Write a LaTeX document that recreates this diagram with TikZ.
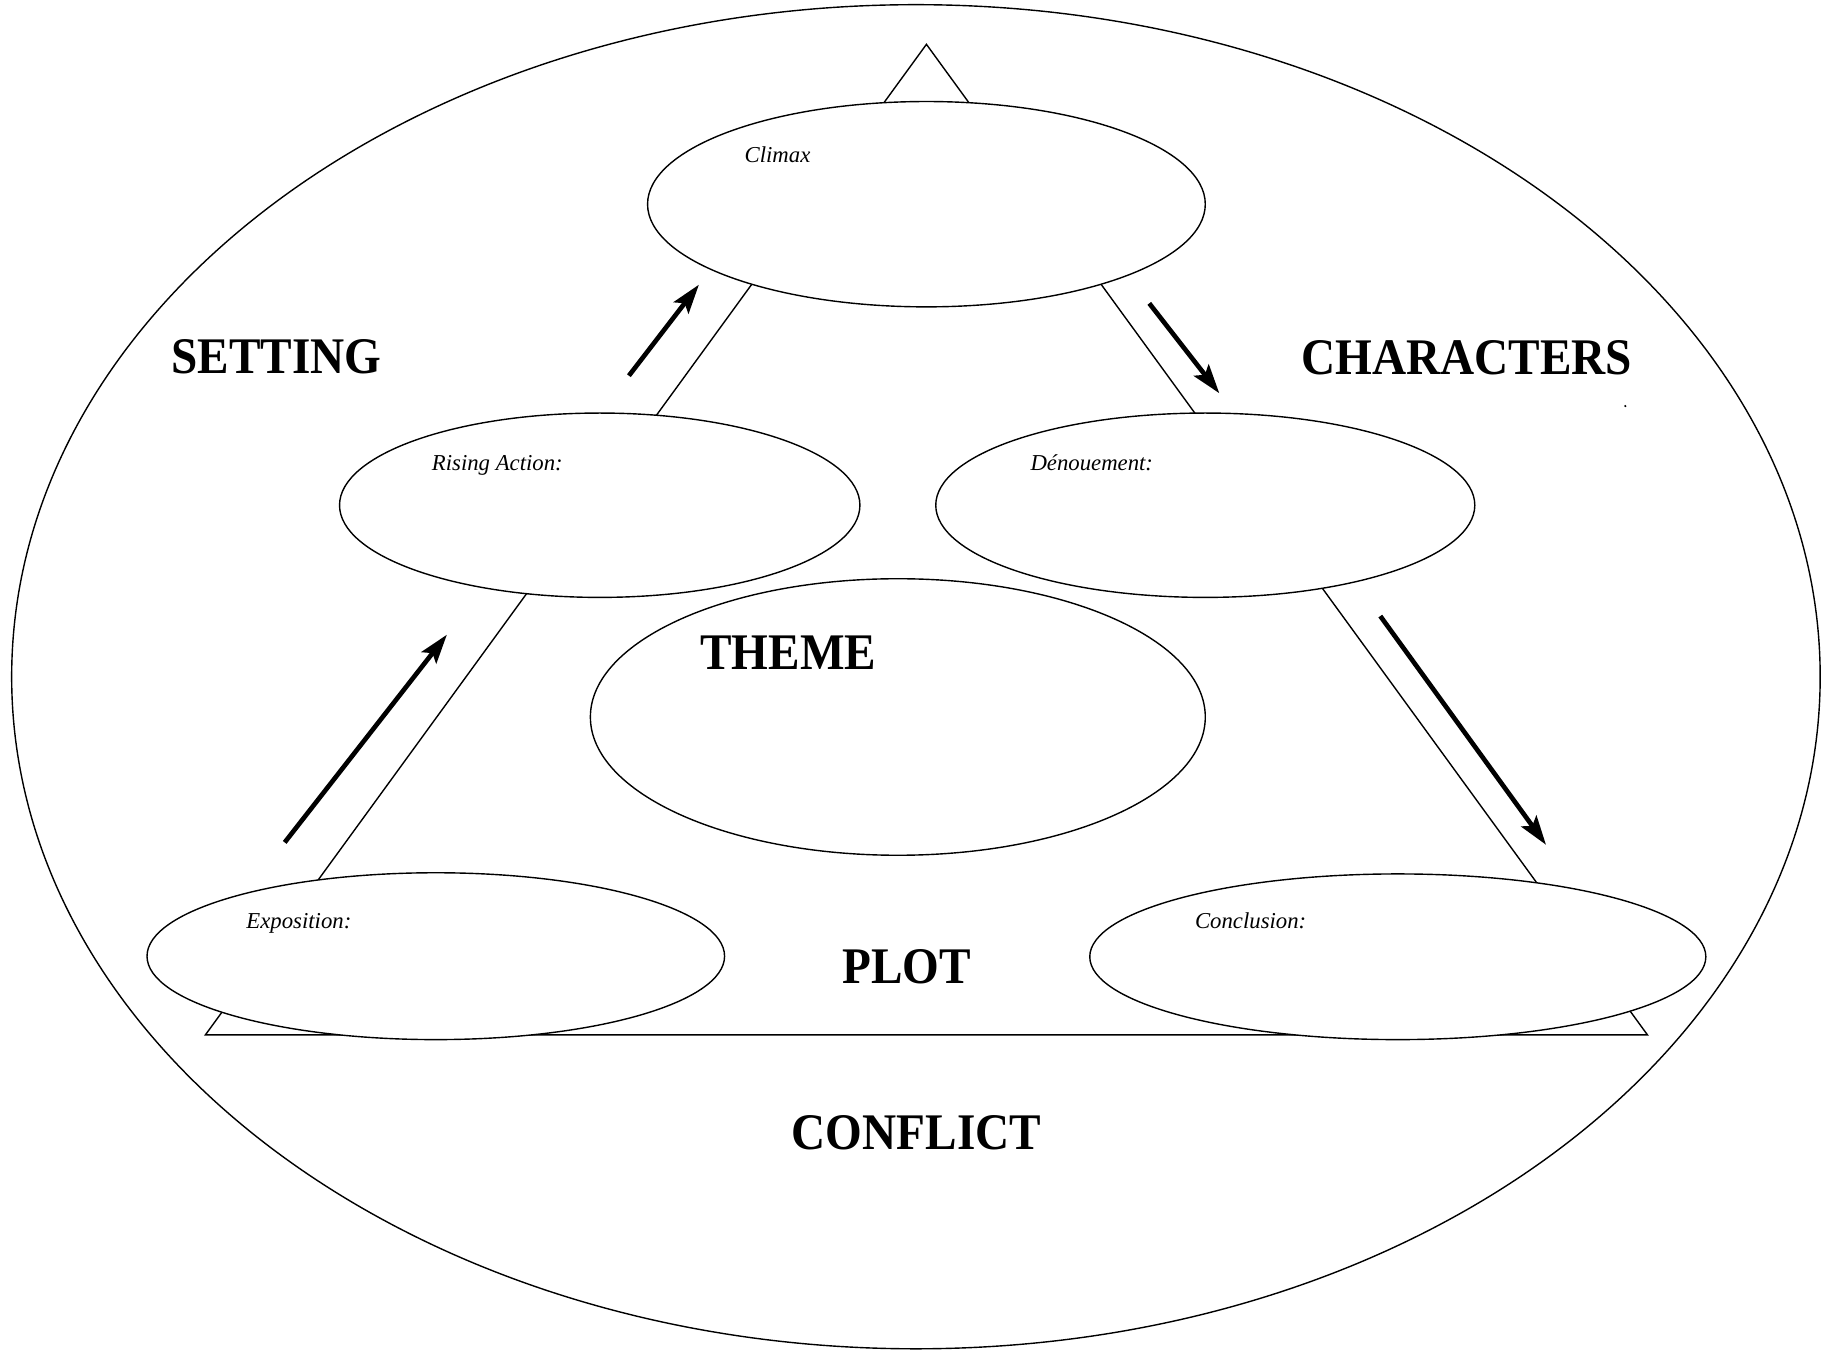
\documentclass[tikz,border=0pt]{standalone}
\usepackage{fontspec}
\setmainfont{Liberation Serif}
\newfontfamily\headfont[FakeStretch=0.92]{Liberation Serif}
\usetikzlibrary{shapes.geometric,arrows.meta}
\begin{document}
\begin{tikzpicture}[x=1pt,y=-1pt,
  outline/.style={draw=black, line width=1.2pt},
  oval/.style={ellipse, outline, fill=white, inner sep=0pt},
  lbl/.style={anchor=base west, font=\fontsize{19.5}{24}\selectfont\itshape, inner sep=0pt},
  head/.style={anchor=base, font=\headfont\fontsize{44}{50}\selectfont\bfseries, inner sep=0pt},
  flow/.style={line width=4pt, -{Stealth[length=25pt,width=16pt,inset=5pt]}}]
\useasboundingbox (0,0) rectangle (1565,1157);
% outer frame
\node[oval, minimum width=1550, minimum height=1152] (frame) at (785,580) {};
% plot triangle
\coordinate (apex) at (794,38);
\coordinate (bl) at (176,887);
\coordinate (br) at (1412,887);
\draw[outline, fill=white] (apex) -- (bl) -- (br) -- cycle;
% stage ovals
\node[oval, minimum width=478, minimum height=176] (climax) at (794,175) {};
\node[oval, minimum width=446, minimum height=158] (rising) at (514,433) {};
\node[oval, minimum width=462, minimum height=158] (denoue) at (1033,433) {};
\node[oval, minimum width=527, minimum height=237] (theme) at (769.5,614.5) {};
\node[oval, minimum width=495, minimum height=143] (expo) at (373.5,819.5) {};
\node[oval, minimum width=528, minimum height=142] (concl) at (1198,820) {};
% stage labels
\node[lbl] (tclimax) at (638,139) {Climax};
\node[lbl] (trising) at (370,403) {Rising Action:};
\node[lbl] (tdenoue) at (883,403) {Dénouement:};
\node[lbl] (texpo) at (211,796) {Exposition:};
\node[lbl] (tconcl) at (1024,796) {Conclusion:};
% headings
\node[head] (setting) at (237,320) {SETTING};
\node[head] (characters) at (1257,321) {CHARACTERS};
\node[head] (themet) at (675.5,574) {THEME};
\node[head] (plot) at (777,843) {PLOT};
\node[head] (conflict) at (785.5,985) {CONFLICT};
\fill (1393,348) circle (1pt);
% arrows
\coordinate (a1s) at (244,722); \coordinate (a1e) at (383,544);
\coordinate (a2s) at (539,322); \coordinate (a2e) at (599,244);
\coordinate (a3s) at (985,260); \coordinate (a3e) at (1045,337);
\coordinate (a4s) at (1183,528); \coordinate (a4e) at (1325,724);
\draw[flow] (a1s) -- (a1e);
\draw[flow] (a2s) -- (a2e);
\draw[flow] (a3s) -- (a3e);
\draw[flow] (a4s) -- (a4e);
\end{tikzpicture}
\end{document}
